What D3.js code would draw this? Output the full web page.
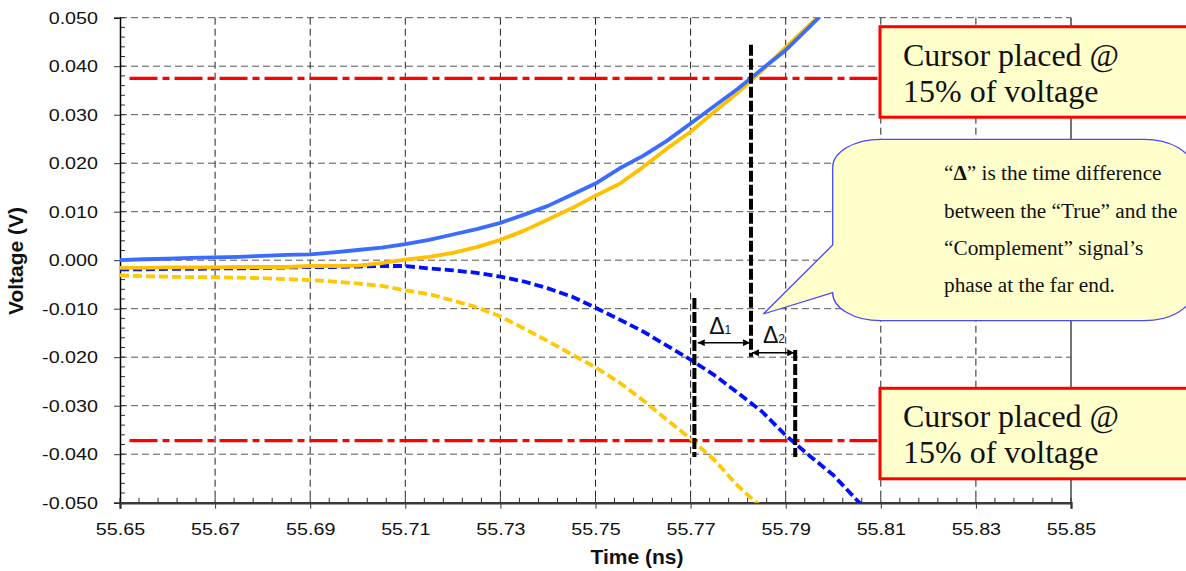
<!DOCTYPE html>
<html lang="en">
<head>
<meta charset="UTF-8">
<title>True / Complement signal skew</title>
<script src="https://d3js.org/d3.v7.min.js"></script>
<style>
  body { margin: 0; background: #fff; }
  svg { display: block; }
  .tick text { font-family: "Liberation Sans", Arial, sans-serif; font-size: 17px; fill: #111; }
  .axis-title { font-family: "Liberation Sans", Arial, sans-serif; font-weight: bold; font-size: 21px; fill: #111; }
  .serif { font-family: "Liberation Serif", "Times New Roman", serif; fill: #111; }
</style>
</head>
<body>
<div id="chart"></div>
<script>
// time grid (ns), 0.005 ns steps
var time = [55.650, 55.655, 55.660, 55.665, 55.670, 55.675, 55.680, 55.685, 55.690, 55.695,
            55.700, 55.705, 55.710, 55.715, 55.720, 55.725, 55.730, 55.735, 55.740, 55.745,
            55.750, 55.755, 55.760, 55.765, 55.770, 55.775, 55.780, 55.785, 55.790, 55.795,
            55.800, 55.805, 55.810];

// "True" signal (solid blue)
var trueRise = [0.0000, 0.0002, 0.0003, 0.0005, 0.0006, 0.0007, 0.0009, 0.0011, 0.0012, 0.0016,
                0.0021, 0.0026, 0.0033, 0.0042, 0.0053, 0.0064, 0.0077, 0.0094, 0.0112, 0.0135,
                0.0158, 0.0189, 0.0215, 0.0246, 0.0282, 0.0318, 0.0354, 0.0394, 0.0433, 0.0481,
                0.0530];
// "True" signal, second case (solid yellow)
var trueRise2 = [-0.0016, -0.0016, -0.0015, -0.0015, -0.0015, -0.0014, -0.0014, -0.0014, -0.0012, -0.0012,
                 -0.0011, -0.0006, 0.0001, 0.0007, 0.0015, 0.0027, 0.0042, 0.0061, 0.0084, 0.0107,
                 0.0133, 0.0157, 0.0192, 0.0230, 0.0265, 0.0306, 0.0346, 0.0391, 0.0439, 0.0485,
                 0.0530];
// "Complement" signal (dashed blue)
var compFall = [-0.0019, -0.0019, -0.0018, -0.0018, -0.0017, -0.0017, -0.0016, -0.0015, -0.0014, -0.0014,
                -0.0013, -0.0012, -0.0012, -0.0017, -0.0021, -0.0026, -0.0034, -0.0044, -0.0058, -0.0075,
                -0.0098, -0.0122, -0.0147, -0.0176, -0.0205, -0.0237, -0.0274, -0.0312, -0.0361, -0.0403,
                -0.0443, -0.0495, -0.0540];
// "Complement" signal, second case (dashed yellow)
var compFall2 = [-0.0031, -0.0033, -0.0034, -0.0035, -0.0035, -0.0036, -0.0037, -0.0039, -0.0041, -0.0044,
                 -0.0048, -0.0053, -0.0062, -0.0070, -0.0083, -0.0097, -0.0116, -0.0141, -0.0167, -0.0194,
                 -0.0221, -0.0252, -0.0289, -0.0329, -0.0368, -0.0412, -0.0466, -0.0510];

var xTicks = [55.65, 55.67, 55.69, 55.71, 55.73, 55.75, 55.77, 55.79, 55.81, 55.83, 55.85];
var yTicks = [0.05, 0.04, 0.03, 0.02, 0.01, 0, -0.01, -0.02, -0.03, -0.04, -0.05];

// 15% cursor levels (V)
var cursorLevels = [0.0375, -0.0372];
// vertical cursor markers: time and voltage span
var markerTimes = [55.7708, 55.7827, 55.7920];
var markerTop = [-0.0078, 0.0444, -0.0185];
var markerBottom = [-0.0406, -0.0199, -0.0406];
// delta arrows
var deltaFrom = [55.7715, 55.7829];
var deltaTo = [55.7825, 55.7918];
var deltaLevel = [-0.0170, -0.0191];
var deltaLabelTime = [55.7739, 55.7852];
var deltaLabelLevel = [-0.0152, -0.0171];
var deltaSub = ["1", "2"];

var W = 1186, H = 571;
var margin = { top: 17.7, left: 120 },
    width = 951, height = 485;

var svg = d3.select("#chart").append("svg")
    .attr("width", W).attr("height", H);

var defs = svg.append("defs");
defs.append("clipPath").attr("id", "plot-clip")
  .append("rect").attr("width", width).attr("height", height);
defs.append("marker")
    .attr("id", "arrow")
    .attr("viewBox", "0 0 10 10")
    .attr("refX", 10).attr("refY", 5)
    .attr("markerWidth", 10).attr("markerHeight", 7)
    .attr("markerUnits", "userSpaceOnUse")
    .attr("orient", "auto-start-reverse")
  .append("path").attr("d", "M0,0 L10,5 L0,10 Z").attr("fill", "#000");

var g = svg.append("g").attr("transform", "translate(" + margin.left + "," + margin.top + ")");

var x = d3.scaleLinear().domain([55.65, 55.85]).range([0, width]);
var y = d3.scaleLinear().domain([-0.05, 0.05]).range([height, 0]);

// grid
g.append("g").selectAll("line").data(yTicks).enter().append("line")
    .attr("x1", 0).attr("x2", width)
    .attr("y1", d => y(d)).attr("y2", d => y(d))
    .attr("stroke", "#555").attr("stroke-dasharray", "7,4");
g.append("g").selectAll("line").data(xTicks.slice(1, -1)).enter().append("line")
    .attr("x1", d => x(d)).attr("x2", d => x(d))
    .attr("y1", 0).attr("y2", height)
    .attr("stroke", "#222").attr("stroke-dasharray", "7,4");

// right border
g.append("line").attr("x1", width).attr("x2", width).attr("y1", 0).attr("y2", height)
    .attr("stroke", "#444").attr("stroke-width", 1.5);

// minor ticks
var yMinor = d3.range(0, 51).map(i => -0.05 + i * 0.002);
g.append("g").selectAll("line").data(yMinor).enter().append("line")
    .attr("x1", 0).attr("x2", 5)
    .attr("y1", d => y(d)).attr("y2", d => y(d))
    .attr("stroke", "#333");
var xMinor = d3.range(0, 51).map(i => 55.65 + i * 0.004);
g.append("g").selectAll("line").data(xMinor).enter().append("line")
    .attr("x1", d => x(d)).attr("x2", d => x(d))
    .attr("y1", height - 5).attr("y2", height)
    .attr("stroke", "#333");

// axes
var yAxis = g.append("g")
    .call(d3.axisLeft(y).tickValues(yTicks).tickSize(6).tickFormat(d => d.toFixed(3)));
yAxis.select(".domain").attr("stroke", "#000").attr("stroke-width", 1.5);
yAxis.selectAll(".tick line").attr("stroke", "#333");
yAxis.selectAll(".tick text").attr("x", -22 / 1.16).attr("transform", "scale(1.16,1)");

var xAxis = g.append("g").attr("transform", "translate(0," + height + ")")
    .call(d3.axisBottom(x).tickValues(xTicks).tickSize(6).tickFormat(d => d.toFixed(2)));
xAxis.select(".domain").attr("stroke", "#3a3a3a").attr("stroke-width", 2.4);
xAxis.selectAll(".tick line").attr("stroke", "#333");
xAxis.selectAll(".tick text").attr("y", 20).attr("transform", "scale(1.16,1)");

// axis titles
svg.append("text").attr("class", "axis-title")
    .attr("text-anchor", "middle")
    .attr("transform", "translate(23,261) rotate(-90)")
    .text("Voltage (V)");
svg.append("text").attr("class", "axis-title")
    .attr("text-anchor", "middle")
    .attr("x", 637).attr("y", 564)
    .text("Time (ns)");

// 15% cursor lines
g.append("g").selectAll("line").data(cursorLevels).enter().append("line")
    .attr("x1", x(55.652)).attr("x2", width)
    .attr("y1", d => y(d)).attr("y2", d => y(d))
    .attr("stroke", "#ff0000").attr("stroke-width", 3.3)
    .attr("stroke-dasharray", "28,5,7,5");

// curves
var plot = g.append("g").attr("clip-path", "url(#plot-clip)");
var line = d3.line().x((d, i) => x(time[i])).y(d => y(d));
var series = [
  { values: compFall2, color: "#ffc800", dash: "9,4" },
  { values: compFall, color: "#0010ff", dash: "9,4" },
  { values: trueRise2, color: "#ffc000", dash: null },
  { values: trueRise, color: "#3a6cff", dash: null }
];
series.forEach(function (s) {
  plot.append("path")
      .datum(s.values)
      .attr("fill", "none")
      .attr("stroke", s.color)
      .attr("stroke-width", 3.8)
      .attr("stroke-linejoin", "round")
      .attr("stroke-dasharray", s.dash)
      .attr("d", line);
});

// vertical markers
g.append("g").selectAll("line").data(markerTimes).enter().append("line")
    .attr("x1", d => x(d)).attr("x2", d => x(d))
    .attr("y1", (d, i) => y(markerTop[i])).attr("y2", (d, i) => y(markerBottom[i]))
    .attr("stroke", "#000").attr("stroke-width", 4)
    .attr("stroke-dasharray", "11,3");

// delta arrows
g.append("g").selectAll("line").data(deltaFrom).enter().append("line")
    .attr("x1", d => x(d)).attr("x2", (d, i) => x(deltaTo[i]))
    .attr("y1", (d, i) => y(deltaLevel[i])).attr("y2", (d, i) => y(deltaLevel[i]))
    .attr("stroke", "#000").attr("stroke-width", 1.5)
    .attr("marker-start", "url(#arrow)").attr("marker-end", "url(#arrow)");

var dl = g.append("g").selectAll("text").data(deltaSub).enter().append("text")
    .attr("x", (d, i) => x(deltaLabelTime[i]))
    .attr("y", (d, i) => y(deltaLabelLevel[i]))
    .attr("font-family", "Liberation Sans, Arial, sans-serif")
    .attr("fill", "#111");
dl.append("tspan").attr("font-size", 23).text("\u0394");
dl.append("tspan").attr("font-size", 12).text(d => d);

// callout bubble
svg.append("path")
    .attr("d", "M832.7,167.3 L832.7,245 L763.3,314 L832.7,292.7 A48,28 0 0 0 880.7,320.7 " +
               "L1144,320.7 A48,28 0 0 0 1192,292.7 L1192,167.3 A48,28 0 0 0 1144,139.3 " +
               "L880.7,139.3 A48,28 0 0 0 832.7,167.3 Z")
    .attr("fill", "#ffffcc")
    .attr("stroke", "#4848ff")
    .attr("stroke-width", 1.3);

var calloutLines = ["", "between the \u201cTrue\u201d and the", "\u201cComplement\u201d signal\u2019s", "phase at the far end."];
var calloutBase = [180, 218.3, 255, 291.7];
var ct = svg.append("g").attr("class", "serif").attr("font-size", 21.3);
var first = ct.append("text").attr("x", 944).attr("y", calloutBase[0]);
first.append("tspan").text("\u201c");
first.append("tspan").attr("font-weight", "bold").text("\u0394");
first.append("tspan").text("\u201d is the time difference");
calloutLines.slice(1).forEach(function (t, i) {
  ct.append("text").attr("x", 944).attr("y", calloutBase[i + 1]).text(t);
});

// cursor boxes
var boxTop = [26.7, 388.3];
var boxText = ["Cursor placed @", "15% of voltage"];
boxTop.forEach(function (top) {
  svg.append("rect")
      .attr("x", 880).attr("y", top)
      .attr("width", 330).attr("height", 90.5)
      .attr("fill", "#ffffcc")
      .attr("stroke", "#ff0000").attr("stroke-width", 3);
  boxText.forEach(function (t, i) {
    svg.append("text").attr("class", "serif")
        .attr("font-size", 32)
        .attr("x", 903).attr("y", top + 39 + i * 36)
        .text(t);
  });
});
</script>
</body>
</html>
